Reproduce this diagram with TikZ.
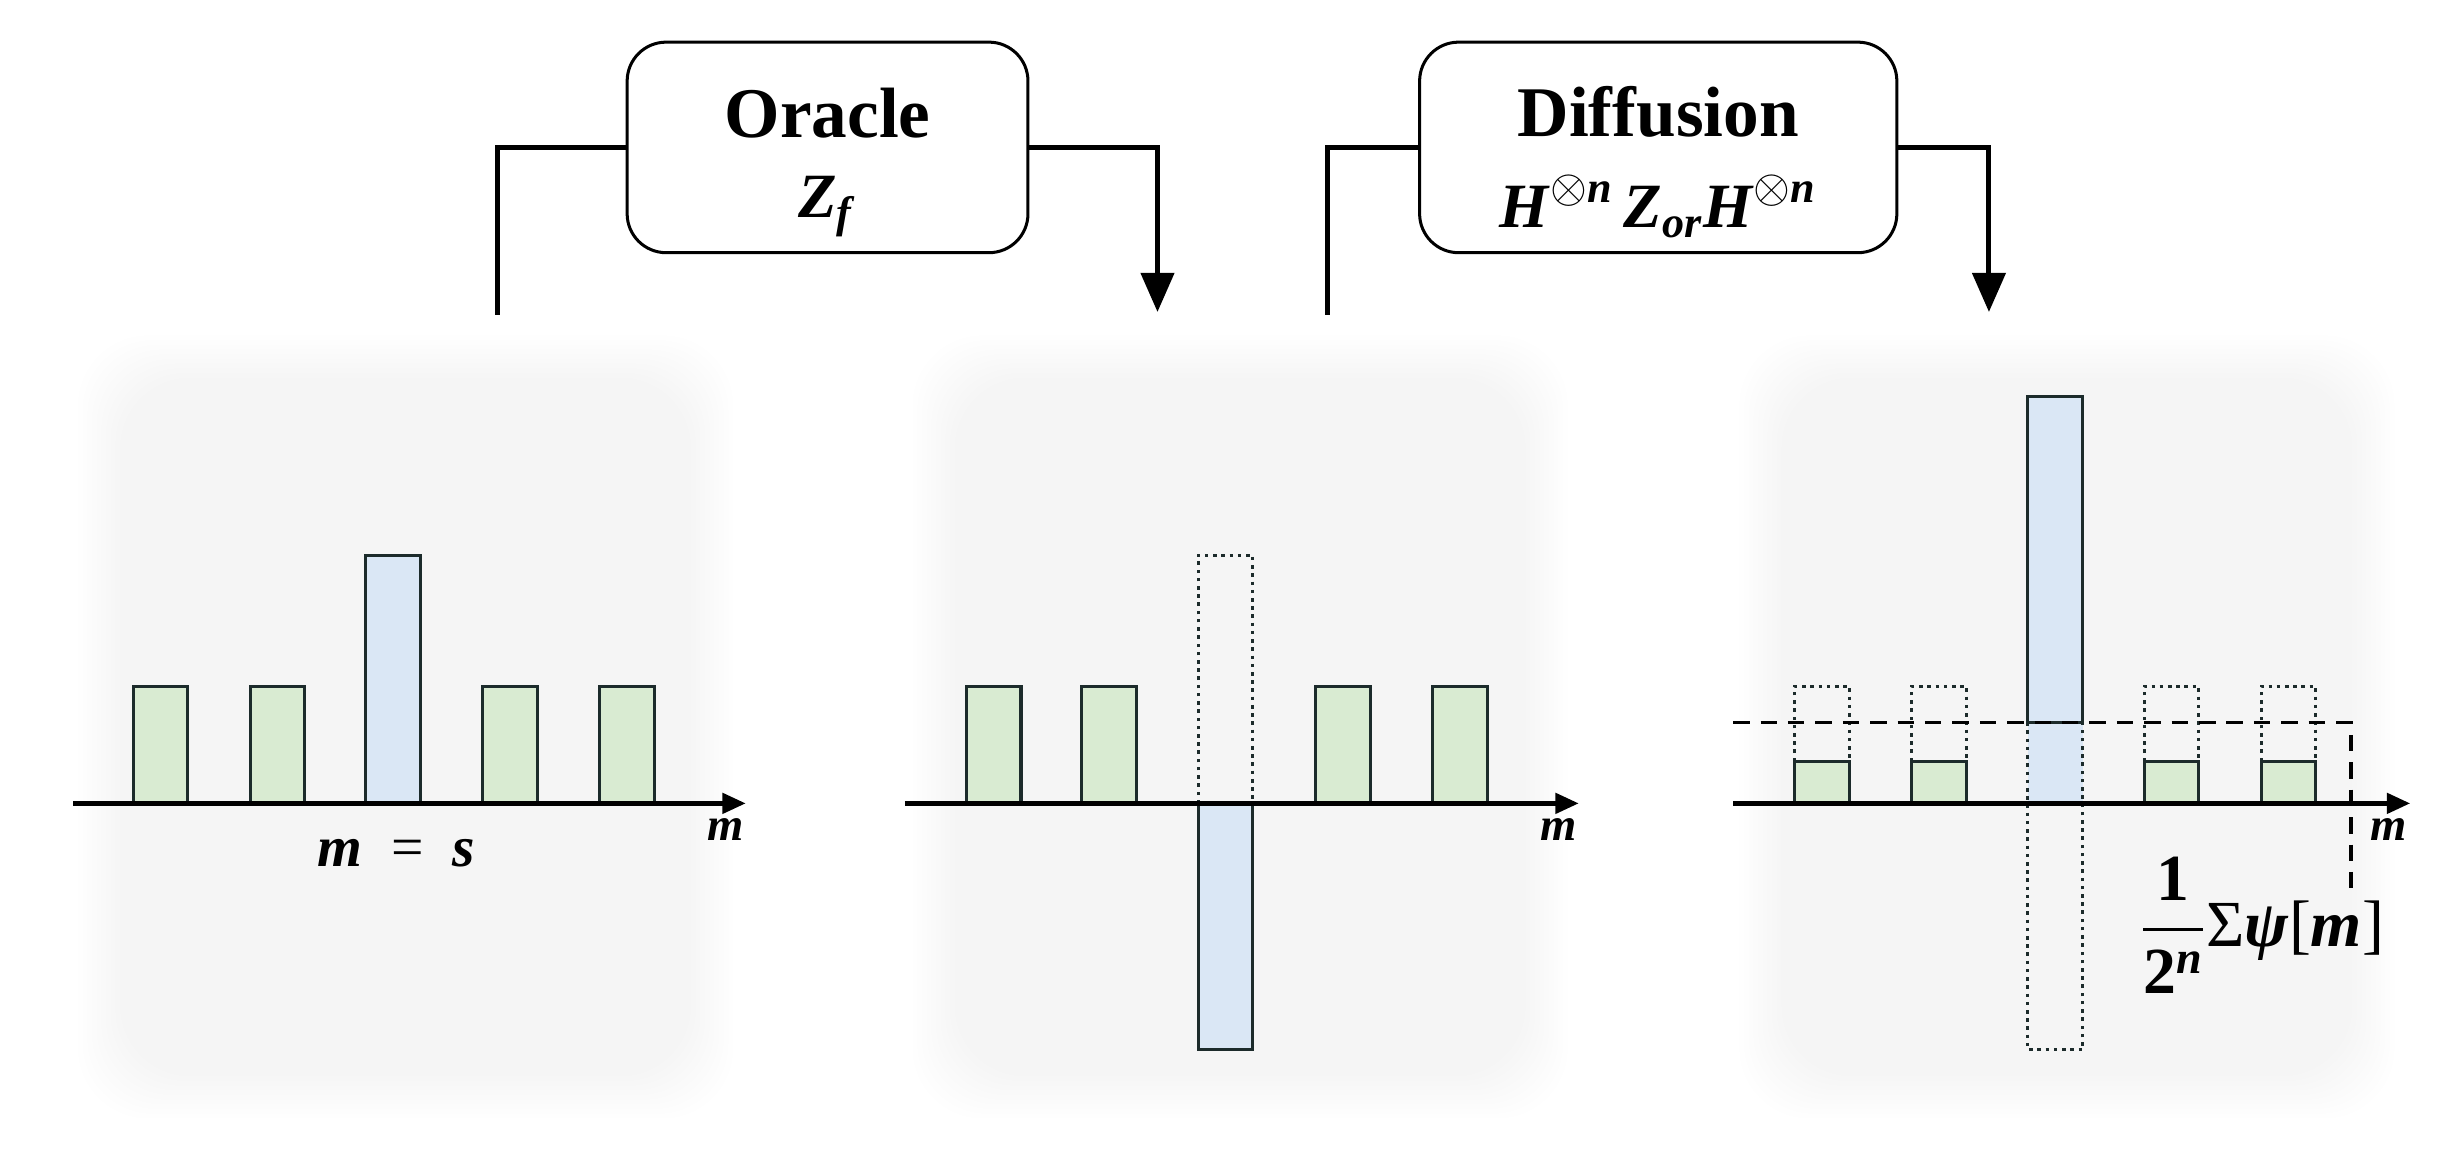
\documentclass[tikz,border=0pt]{standalone}
\usepackage{amsmath}
\usepackage{fontspec}
\setmainfont{Liberation Serif}
\usetikzlibrary{positioning,arrows.meta}
\definecolor{barGreen}{HTML}{D9EBD2}
\definecolor{barBlue}{HTML}{DAE7F5}
\definecolor{barEdge}{HTML}{1C2B2B}
\newcommand\bi[1]{\textbf{\textit{#1}}}

\begin{document}
\begin{tikzpicture}[x=0.02cm, y=-0.02cm,
    opbox/.style={draw = black, line width = 1.1pt, rounded corners = .5cm, fill = white,
        minimum width = 5.14cm, minimum height = 2.7cm, align = center, inner sep = 0pt},
    flow/.style={line width = 1.8pt},
    flowin/.style={flow, -{Triangle[length = .5cm, width = .42cm]}},
    axis/.style={line width = 1.6pt, -{Triangle[length = .3cm, width = .26cm]}},
    greenbar/.style={fill = barGreen, draw = barEdge, line width = 1.1pt},
    bluebar/.style={fill = barBlue, draw = barEdge, line width = 1.1pt},
    ghost/.style={draw = barEdge, line width = 1.1pt, dash pattern = on 1.3pt off 1.7pt},
    axlabel/.style={anchor = base east, inner sep = 0pt, font = \fontsize{17}{19}\selectfont}]
    \useasboundingbox (0,0) rectangle (1568,743);

    % soft panels
    \foreach \px in {50, 585, 1115}
        {
            \foreach \k in {0, ..., 9}
                {
                    \fill[black, opacity = .0042, rounded corners = .9cm] (\px+\k*3, 215+\k*3) rectangle ++(420-\k*6, 502-\k*6);
                }
        }

    % operator boxes
    \node[opbox] (oracle) at (530.5, 94.5) {{\fontsize{26}{30}\selectfont\bfseries\rule{0pt}{29pt}Oracle}\\[13pt]
        {\fontsize{23}{24}\selectfont\bi{Z}\textsubscript{\bi{f}}}};
    \node[opbox, minimum width = 6.12cm] (diffusion) at (1063, 94.5) {{\fontsize{26}{30}\selectfont\bfseries\rule{0pt}{29pt}Diffusion}\\[13pt]
        {\fontsize{23}{24}\selectfont\bi{H}\textsuperscript{$\otimes$\bi{n}}\,\bi{Z}\textsubscript{\bi{or}}\bi{H}\textsuperscript{$\otimes$\bi{n}}}};

    \coordinate (oin) at (319, 202);
    \coordinate (oout) at (742, 200);
    \coordinate (din) at (851, 202);
    \coordinate (dout) at (1275, 200);
    \draw[flow] (oracle.west) -| (oin);
    \draw[flowin] (oracle.east) -| (oout);
    \draw[flow] (diffusion.west) -| (din);
    \draw[flowin] (diffusion.east) -| (dout);

    % panel 1: uniform superposition
    \foreach \c in {103, 178, 327, 402}
        {
            \draw[greenbar] (\c-17.5, 440) rectangle (\c+17.5, 515);
        }
    \draw[bluebar] (234.5, 356) rectangle (269.5, 515);
    \coordinate (ax1s) at (47, 515);
    \coordinate (ax1e) at (478, 515);
    \draw[axis] (ax1s) -- (ax1e);
    \node[axlabel] (m1) at (477, 539) {\bi{m}};
    \node[font = \fontsize{21}{24}\selectfont] (ms) at (254, 547) {\bi{m}\enspace=\enspace\bi{s}};

    % panel 2: after oracle
    \foreach \c in {637, 711, 861, 936}
        {
            \draw[greenbar] (\c-17.5, 440) rectangle (\c+17.5, 515);
        }
    \draw[ghost] (768, 515) -- (768, 356) -- (803, 356) -- (803, 515);
    \draw[bluebar] (768, 515) rectangle (803, 673);
    \coordinate (ax2s) at (580, 515);
    \coordinate (ax2e) at (1012, 515);
    \draw[axis] (ax2s) -- (ax2e);
    \node[axlabel] (m2) at (1011, 539) {\bi{m}};

    % panel 3: after diffusion
    \foreach \c in {1168, 1243, 1392, 1467}
        {
            \draw[ghost] (\c-17.5, 488) -- (\c-17.5, 440) -- (\c+17.5, 440) -- (\c+17.5, 488);
            \draw[greenbar] (\c-17.5, 488) rectangle (\c+17.5, 515);
        }
    \fill[barBlue] (1300, 254) rectangle (1335, 515);
    \draw[bluebar] (1300, 254) rectangle (1335, 463);
    \draw[ghost] (1300, 463) -- (1300, 673) -- (1335, 673) -- (1335, 463);
    \coordinate (means) at (1111, 463);
    \coordinate (meane) at (1507, 576);
    \draw[line width = 1.2pt, dash pattern = on 6pt off 4pt] (means) -| (meane);
    \coordinate (ax3s) at (1111, 515);
    \coordinate (ax3e) at (1545, 515);
    \draw[axis] (ax3s) -- (ax3e);
    \node[axlabel] (m3) at (1543, 539) {\bi{m}};
    \node[font = \fontsize{24}{28}\selectfont, inner sep = 0pt] (meanlbl) at (1450, 593)
        {$\dfrac{\mathbf{1}}{\mathbf{2}^{\text{\bi{n}}}}$Σ\bi{ψ}[\bi{m}]};
\end{tikzpicture}
\end{document}
